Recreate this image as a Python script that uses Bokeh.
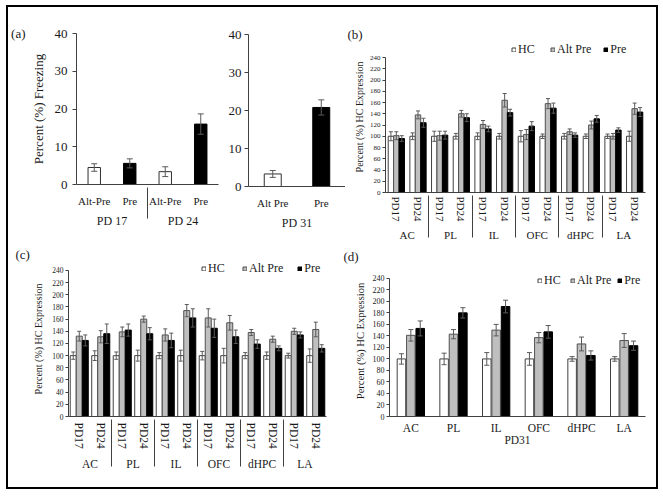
from bokeh.plotting import figure
from bokeh.models import FactorRange, Range1d, ColumnDataSource, Legend, LegendItem, LinearAxis
from bokeh.transform import dodge
from bokeh.layouts import row, column
from bokeh.embed import file_html
from bokeh.resources import INLINE

FONT = "Liberation Serif"
TXT = "#1a1a1a"
AX = "#404040"
ERR = "#5a5a5a"

# ---------------- data ----------------
# Panel (a): percent freezing
a_days = ["PD 17", "PD 24"]
a_conds = ["Alt-Pre", "Pre"]
a_vals = [4.5, 5.6, 3.4, 16.0]
a_errs = [1.0, 1.2, 1.3, 2.7]
a31_day = "PD 31"
a31_conds = ["Alt Pre", "Pre"]
a31_vals = [3.3, 20.8]
a31_errs = [0.9, 2.0]
a_ticks = [0, 10, 20, 30, 40]

regions = ["AC", "PL", "IL", "OFC", "dHPC", "LA"]
ages = ["PD17", "PD24"]
series = ["HC", "Alt Pre", "Pre"]
hc_ticks = list(range(0, 241, 20))

# Panel (b)
b_hc = [100, 100, 100, 100, 100, 100, 100, 100, 100, 100, 100, 100]
b_hc_err = [8, 6, 9, 5, 6, 5, 10, 4, 5, 4, 4, 9]
b_alt = [101, 138, 101, 140, 121, 164, 103, 158, 108, 120, 100, 149]
b_alt_err = [7, 7, 8, 6, 7, 12, 9, 9, 5, 7, 5, 10]
b_pre = [96, 124, 102, 133, 113, 142, 118, 150, 102, 131, 111, 143]
b_pre_err = [5, 8, 7, 7, 5, 6, 8, 9, 4, 6, 4, 8]

# Panel (c)
c_hc = [100, 100, 100, 100, 100, 100, 100, 100, 100, 100, 100, 100]
c_hc_err = [6, 8, 6, 9, 5, 9, 7, 12, 5, 6, 4, 11]
c_alt = [132, 131, 139, 160, 134, 174, 162, 154, 138, 127, 140, 143]
c_alt_err = [8, 10, 8, 5, 10, 10, 15, 12, 5, 5, 5, 12]
c_pre = [125, 136, 142, 136, 125, 162, 145, 131, 119, 112, 134, 112]
c_pre_err = [9, 16, 10, 10, 12, 15, 15, 11, 7, 4, 5, 6]

# Panel (d)
d_day = "PD31"
d_hc = [100, 100, 100, 100, 100, 100]
d_hc_err = [9, 10, 11, 11, 4, 4]
d_alt = [141, 143, 150, 137, 126, 132]
d_alt_err = [10, 8, 10, 9, 12, 12]
d_pre = [153, 180, 191, 147, 106, 123]
d_pre_err = [13, 9, 11, 11, 8, 8]

STY = {"HC": ("white", "#404040"), "Alt Pre": ("#bfbfbf", "#505050"), "Pre": ("black", "black")}


def make_fig(w, h, xr, yr, ml, mr, mt, mb):
    p = figure(width=w, height=h, x_range=xr, y_range=yr, output_backend="svg",
               toolbar_location=None, min_border_left=ml, min_border_right=mr,
               min_border_top=mt, min_border_bottom=mb)
    p.outline_line_color = None
    p.grid.grid_line_color = None
    p.background_fill_color = "white"
    p.border_fill_color = "white"
    for ax in (p.xaxis[0], p.yaxis[0]):
        ax.axis_line_color = AX
        ax.major_tick_line_color = AX
        ax.minor_tick_line_color = None
        ax.major_label_text_font = FONT
        ax.major_label_text_color = TXT
        ax.axis_label_text_font = FONT
        ax.axis_label_text_font_style = "normal"
        ax.axis_label_text_color = TXT
    xa = p.xaxis[0]
    xa.major_tick_line_color = None
    xa.major_label_standoff = 4
    xa.group_text_font = FONT
    xa.group_text_font_style = "normal"
    xa.group_text_color = TXT
    xa.separator_line_color = AX
    xa.separator_line_width = 1
    return p


def bars(p, factors, vals_list, errs_list, fills, lines, offsets, width, cap):
    rs = []
    for vals, errs, fc, lc, off in zip(vals_list, errs_list, fills, lines, offsets):
        src = ColumnDataSource(dict(x=factors, top=vals, fill=fc, line=lc,
                                    lo=[v - e for v, e in zip(vals, errs)],
                                    hi=[v + e for v, e in zip(vals, errs)]))
        xx = dodge("x", off, range=p.x_range)
        r = p.vbar(x=xx, top="top", bottom=0, width=width, source=src,
                   fill_color="fill", line_color="line", line_width=1)
        p.segment(x0=xx, x1=xx, y0="lo", y1="hi", source=src, line_color=ERR, line_width=1)
        p.scatter(x=xx, y="hi", marker="dash", size=cap, line_color=ERR, source=src)
        p.scatter(x=xx, y="lo", marker="dash", size=cap, line_color=ERR, source=src)
        rs.append(r)
    return rs


def set_title(p, text, offset, standoff):
    t = p.title
    t.text = text
    t.align = "left"
    t.offset = offset
    t.standoff = standoff
    t.text_font = FONT
    t.text_font_size = "13px"
    t.text_font_style = "normal"
    t.text_color = TXT


def add_legend(p, rs, loc, spacing):
    lg = Legend(items=[LegendItem(label=s, renderers=[r]) for s, r in zip(series, rs)],
                location=loc, orientation="horizontal", glyph_width=5, glyph_height=5,
                label_standoff=2, spacing=spacing, padding=0, margin=0,
                border_line_color=None, background_fill_alpha=0,
                label_text_font=FONT, label_text_font_size="12px", label_text_color=TXT,
                label_height=12)
    p.add_layout(lg)


def hc_axes(p, tick_size, label_size, ax_std):
    ya = p.yaxis[0]
    ya.ticker = hc_ticks
    ya.bounds = (0, 240)
    ya.major_tick_out = 3
    ya.major_tick_in = 0
    ya.major_label_standoff = 2
    ya.major_label_text_font_size = tick_size
    ya.axis_label = "Percent (%) HC Expression"
    ya.axis_label_text_font_size = label_size
    ya.axis_label_standoff = ax_std
    xa = p.xaxis[0]
    xa.major_tick_out = 0
    xa.major_tick_in = 0


def per_bar(conds, mapping):
    return [mapping[c] for c in conds]


# ---------------- panel (a), left ----------------
fa_factors = [(d, c) for d in a_days for c in a_conds]
pa1 = make_fig(217, 237, FactorRange(*fa_factors, range_padding=0, group_padding=0, factor_padding=0),
               Range1d(0, 40), 62, 7, 26, 60)
bars(pa1, fa_factors, [a_vals], [a_errs],
     [per_bar([c for d, c in fa_factors], {"Alt-Pre": "white", "Pre": "black"})],
     [per_bar([c for d, c in fa_factors], {"Alt-Pre": "#303030", "Pre": "black"})],
     [0], 0.35, 6)
ya = pa1.yaxis[0]
ya.ticker = a_ticks
ya.major_tick_out = 4
ya.major_tick_in = 0
ya.major_label_standoff = 5
ya.major_label_text_font_size = "13px"
ya.axis_label = "Percent (%) Freezing"
ya.axis_label_text_font_size = "13px"
ya.axis_label_standoff = 6
xa = pa1.xaxis[0]
xa.major_label_text_font_size = "11px"
xa.group_text_font_size = "12px"
lab_ax = LinearAxis(ticker=[40], major_label_overrides={40: "(a)"}, axis_line_color=None,
                    major_tick_line_color=None, minor_tick_line_color=None,
                    major_tick_out=0, major_tick_in=0, major_label_standoff=2,
                    major_label_text_font=FONT, major_label_text_font_size="13px",
                    major_label_text_color=TXT)
pa1.add_layout(lab_ax, "left")

# ---------------- panel (a), right ----------------
fa31 = [(a31_day, c) for c in a31_conds]
pa2 = make_fig(120, 237, FactorRange(*fa31, range_padding=0, group_padding=0, factor_padding=0),
               Range1d(0, 40), 22, 0, 27, 58)
bars(pa2, fa31, [a31_vals], [a31_errs], [["white", "black"]], [["#303030", "black"]], [0], 0.35, 6)
ya = pa2.yaxis[0]
ya.ticker = a_ticks
ya.major_tick_out = 4
ya.major_tick_in = 0
ya.major_label_standoff = 3
ya.major_label_text_font_size = "13px"
xa = pa2.xaxis[0]
xa.major_label_text_font_size = "11px"
xa.group_text_font_size = "12px"


def series_colors(n):
    return ([[STY[s][0]] * n for s in series], [[STY[s][1]] * n for s in series])


# ---------------- panel (b) ----------------
f2 = [(r, a) for r in regions for a in ages]
pb = make_fig(311, 237, FactorRange(*f2, range_padding=0, group_padding=0, factor_padding=0),
              Range1d(0, 240 * 151 / 135), 40, 11, 34, 52)
fc, lc = series_colors(len(f2))
rs_b = bars(pb, f2, [b_hc, b_alt, b_pre], [b_hc_err, b_alt_err, b_pre_err],
            fc, lc, [-0.25, 0, 0.25], 0.25, 4)
hc_axes(pb, "7px", "10px", 2)
pb.xaxis[0].major_label_orientation = "vertical"
pb.xaxis[0].major_label_standoff = 4
pb.xaxis[0].major_label_text_font_size = "11px"
pb.xaxis[0].group_text_font_size = "11px"
add_legend(pb, rs_b, (126, 135), 12)
set_title(pb, "(b)", -38, 0)

# ---------------- panel (c) ----------------
pc = make_fig(332, 243, FactorRange(*f2, range_padding=0, group_padding=0, factor_padding=0),
              Range1d(0, 240 * 156 / 147), 60, 14, 16, 71)
rs_c = bars(pc, f2, [c_hc, c_alt, c_pre], [c_hc_err, c_alt_err, c_pre_err],
            fc, lc, [-0.28, 0, 0.28], 0.28, 4)
hc_axes(pc, "7.5px", "10px", 5)
pc.xaxis[0].major_label_orientation = "vertical"
pc.xaxis[0].major_label_standoff = 6
pc.xaxis[0].major_label_text_font_size = "11.5px"
pc.xaxis[0].group_text_font_size = "11.5px"
add_legend(pc, rs_c, (133, 140), 14)
set_title(pc, "(c)", -53, 0)

# ---------------- panel (d) ----------------
pd_ = make_fig(316, 243, FactorRange(*regions, range_padding=0, factor_padding=0),
               Range1d(0, 240 * 153 / 140), 49, 11, 19, 71)
fcd, lcd = series_colors(len(regions))
rs_d = bars(pd_, regions, [d_hc, d_alt, d_pre], [d_hc_err, d_alt_err, d_pre_err],
            fcd, lcd, [-0.22, 0, 0.22], 0.2, 5)
hc_axes(pd_, "8px", "10.5px", 4)
xd = pd_.xaxis[0]
xd.major_label_standoff = 5
xd.major_label_text_font_size = "11.5px"
xd.axis_label = d_day
xd.axis_label_text_font_size = "11.5px"
xd.axis_label_standoff = -3
add_legend(pd_, rs_d, (148, 128), 6)
set_title(pd_, "(d)", -46, 4)

layout = column(row(column(pa1), column(pa2), column(pb)), row(column(pc), column(pd_)),
                styles={"border": "2px solid black", "margin-left": "6px", "margin-top": "5px",
                        "background-color": "white"})

open("out.html", "w").write(file_html(layout, INLINE))
